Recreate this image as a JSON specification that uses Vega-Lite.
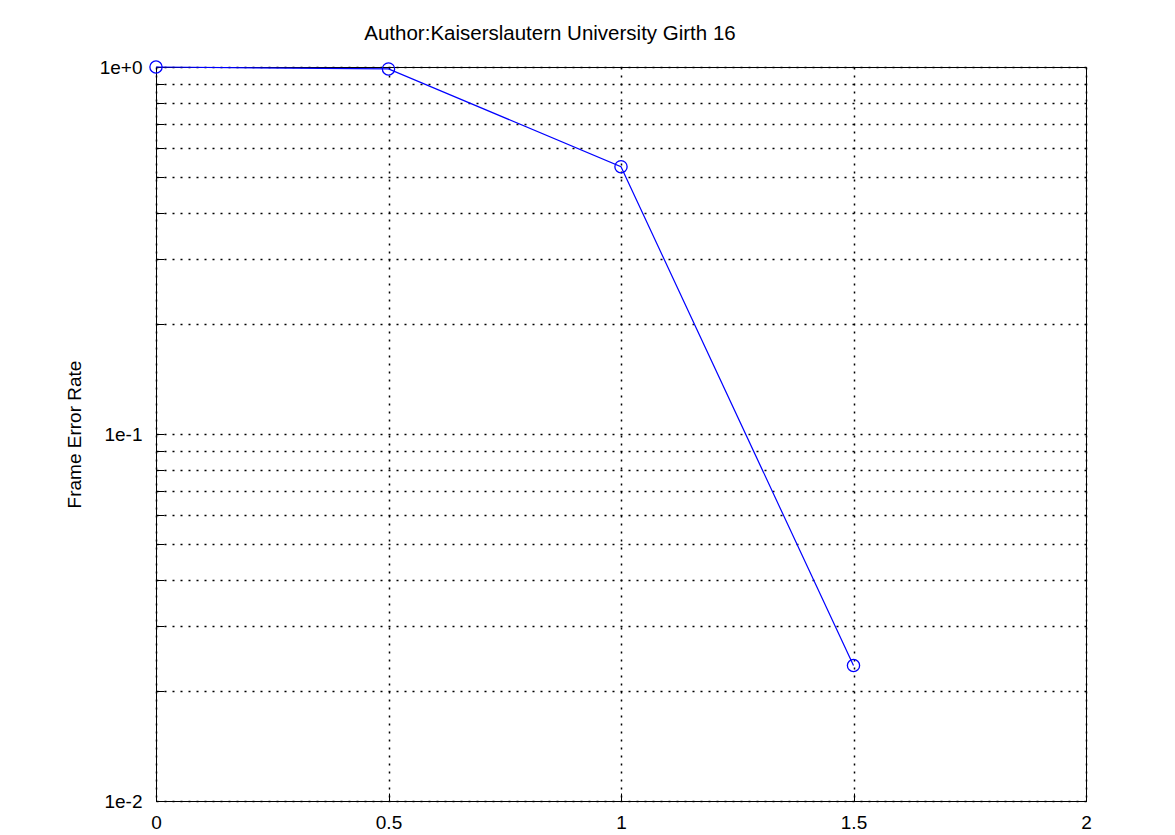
{
  "$schema": "https://vega.github.io/schema/vega-lite/v6.json",
  "autosize": {"type": "none"},
  "padding": {"left": 156, "top": 67, "right": 89, "bottom": 34},
  "width": 930,
  "height": 734,
  "background": "white",
  "config": {
    "view": {"stroke": "black", "strokeWidth": 1},
    "font": "Liberation Sans"
  },
  "title": {
    "text": "Author:Kaiserslautern University Girth 16",
    "fontSize": 20.5,
    "fontWeight": "normal",
    "font": "Liberation Sans",
    "color": "black",
    "anchor": "middle",
    "dx": -71,
    "offset": 14
  },
  "data": {
    "values": [
      {"snr": 0, "fer": 1.0},
      {"snr": 0.5, "fer": 0.988},
      {"snr": 1.0, "fer": 0.535},
      {"snr": 1.5, "fer": 0.0234}
    ]
  },
  "encoding": {
    "x": {
      "field": "snr",
      "type": "quantitative",
      "scale": {"domain": [0, 2], "nice": false, "zero": false},
      "axis": {
        "title": null,
        "values": [0, 0.5, 1, 1.5, 2],
        "format": "~g",
        "labelFontSize": 19,
        "labelColor": "black",
        "labelPadding": 20,
        "labelFlush": false,
        "domainColor": "black",
        "tickColor": "black",
        "tickSize": -8,
        "grid": true,
        "gridColor": "black",
        "gridDash": [2, 6],
        "gridOpacity": 1,
        "gridWidth": 1.5
      }
    },
    "y": {
      "field": "fer",
      "type": "quantitative",
      "scale": {"type": "log", "domain": [0.01, 1], "nice": false},
      "axis": {
        "title": "Frame Error Rate",
        "titleFontSize": 19,
        "titleFontWeight": "normal",
        "titleColor": "black",
        "titlePadding": 15,
        "values": [0.01, 0.02, 0.03, 0.04, 0.05, 0.06, 0.07, 0.08, 0.09, 0.1, 0.2, 0.3, 0.4, 0.5, 0.6, 0.7, 0.8, 0.9, 1],
        "labelExpr": "datum.value == 1 ? '1e+0' : (abs(datum.value - 0.1) < 1e-9 ? '1e-1' : (abs(datum.value - 0.01) < 1e-9 ? '1e-2' : ''))",
        "labelFontSize": 19,
        "labelColor": "black",
        "labelPadding": 22,
        "labelFlush": false,
        "domainColor": "black",
        "tickColor": "black",
        "tickSize": -8,
        "grid": true,
        "gridColor": "black",
        "gridDash": [2, 6],
        "gridOpacity": 1,
        "gridWidth": 1.5
      }
    }
  },
  "layer": [
    {"mark": {"type": "line", "color": "blue", "strokeWidth": 1.2}},
    {"mark": {"type": "point", "shape": "circle", "filled": false, "color": "blue", "size": 150, "strokeWidth": 1.3, "opacity": 1}}
  ]
}
